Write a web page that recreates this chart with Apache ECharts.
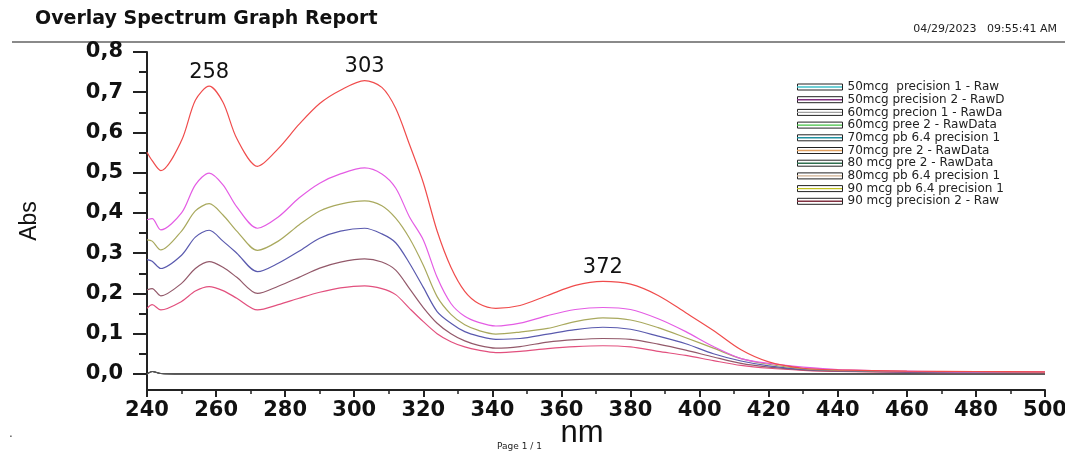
<!DOCTYPE html>
<html>
<head>
<meta charset="utf-8">
<title>Overlay Spectrum Graph Report</title>
<script src="https://cdn.jsdelivr.net/npm/echarts@6/dist/echarts.min.js"></script>
<style>
  html, body { margin: 0; padding: 0; background: #fff; }
  #chart { width: 1065px; height: 451px; }
</style>
</head>
<body>
<div id="chart"></div>
<script>
// wavelengths (nm) the curves were read at
var wavelength = [240, 241.5, 244, 250, 254, 258, 262, 266, 272, 278, 284, 290, 296, 303, 308, 312, 316, 320, 324, 328,
  332, 336, 341, 348, 356, 364, 372, 380, 388, 396, 404, 412, 420, 430, 440, 460, 480, 500];

// absorbance, top curve to bottom
var absRed = [0.551, 0.53, 0.505, 0.58, 0.68, 0.715, 0.675, 0.585, 0.516, 0.56, 0.62, 0.672, 0.705, 0.729, 0.712, 0.66,
  0.57, 0.475, 0.355, 0.265, 0.205, 0.175, 0.163, 0.17, 0.195, 0.22, 0.23, 0.223, 0.195, 0.152, 0.108, 0.06, 0.03,
  0.014, 0.01, 0.007, 0.006, 0.005];
var absMagenta = [0.383, 0.386, 0.358, 0.40, 0.47, 0.499, 0.47, 0.415, 0.362, 0.39, 0.437, 0.474, 0.497, 0.512, 0.497,
  0.462, 0.39, 0.333, 0.24, 0.175, 0.143, 0.128, 0.119, 0.126, 0.145, 0.16, 0.165, 0.16, 0.137, 0.105, 0.068, 0.038,
  0.026, 0.017, 0.011, 0.007, 0.005, 0.005];
var absOlive = [0.333, 0.33, 0.308, 0.355, 0.405, 0.423, 0.395, 0.355, 0.307, 0.33, 0.37, 0.405, 0.422, 0.43, 0.418,
  0.387, 0.337, 0.27, 0.192, 0.148, 0.122, 0.108, 0.099, 0.104, 0.113, 0.13, 0.139, 0.134, 0.115, 0.09, 0.064, 0.038,
  0.024, 0.013, 0.009, 0.006, 0.005, 0.004];
var absBlue = [0.284, 0.28, 0.262, 0.295, 0.34, 0.357, 0.33, 0.3, 0.254, 0.275, 0.305, 0.337, 0.355, 0.362, 0.348,
  0.326, 0.275, 0.215, 0.155, 0.126, 0.105, 0.094, 0.086, 0.088, 0.099, 0.11, 0.116, 0.111, 0.094, 0.075, 0.05, 0.032,
  0.02, 0.011, 0.008, 0.005, 0.004, 0.004];
var absBrown = [0.209, 0.212, 0.194, 0.225, 0.262, 0.279, 0.265, 0.24, 0.2, 0.218, 0.24, 0.263, 0.278, 0.286, 0.278,
  0.258, 0.212, 0.165, 0.126, 0.1, 0.082, 0.071, 0.064, 0.068, 0.079, 0.085, 0.088, 0.086, 0.074, 0.059, 0.042, 0.026,
  0.017, 0.01, 0.007, 0.005, 0.004, 0.003];
var absPink = [0.163, 0.172, 0.159, 0.18, 0.206, 0.217, 0.207, 0.188, 0.159, 0.172, 0.188, 0.203, 0.214, 0.219, 0.212,
  0.197, 0.163, 0.13, 0.1, 0.08, 0.067, 0.059, 0.053, 0.056, 0.063, 0.068, 0.07, 0.067, 0.056, 0.046, 0.033, 0.021,
  0.014, 0.009, 0.006, 0.004, 0.003, 0.003];
var absBaseline = [0, 0.006, 0.001, 0, 0, 0, 0, 0, 0, 0, 0, 0, 0, 0, 0, 0, 0, 0, 0, 0,
  0, 0, 0, 0, 0, 0, 0, 0, 0, 0, 0, 0, 0, 0, 0, 0, 0, 0];

// legend entries as printed (same order as the report)
var legendNames = ['50mcg  precision 1 - Raw', '50mcg precision 2 - RawD', '60mcg precion 1 - RawDa',
  '60mcg pree 2 - RawData', '70mcg pb 6.4 precision 1', '70mcg pre 2 - RawData', '80 mcg pre 2 - RawData',
  '80mcg pb 6.4 precision 1', '90 mcg pb 6.4 precision 1', '90 mcg precision 2 - Raw'];
var legendColors = ['#40c0c8', '#803080', '#a0a0a0', '#40c040', '#2090a0', '#e0a060', '#307050', '#d0b090',
  '#c0c020', '#803040'];

var peakNm = [258, 303, 372];
var yTicks = [0, 0.1, 0.2, 0.3, 0.4, 0.5, 0.6, 0.7, 0.8];
var yMinorTicks = [0.05, 0.15, 0.25, 0.35, 0.45, 0.55, 0.65, 0.75];

function pairs(values) {
  return wavelength.map(function (w, i) { return [w, values[i]]; });
}

// which curve belongs to which legend entry
var curves = [
  { name: legendNames[0], values: absBaseline, color: '#555' },
  { name: legendNames[1], values: absBaseline, color: '#555' },
  { name: legendNames[2], values: absBaseline, color: '#555' },
  { name: legendNames[3], values: absBaseline, color: '#555' },
  { name: legendNames[4], values: absPink, color: '#e2507e' },
  { name: legendNames[5], values: absBrown, color: '#93596a' },
  { name: legendNames[6], values: absBlue, color: '#5a5aae' },
  { name: legendNames[7], values: absOlive, color: '#a9a95e' },
  { name: legendNames[8], values: absMagenta, color: '#e45ce4' },
  { name: legendNames[9], values: absRed, color: '#f04c4c' }
];

var series = curves.map(function (c) {
  return {
    name: c.name,
    type: 'line',
    data: pairs(c.values),
    smooth: 0.3,
    showSymbol: false,
    symbol: 'none',
    lineStyle: { color: c.color, width: 1.2 },
    itemStyle: { color: c.color },
    emphasis: { disabled: true }
  };
});

// peak wavelengths printed above the top curve
series[9].markPoint = {
  symbol: 'circle',
  symbolSize: 1,
  itemStyle: { color: 'rgba(0,0,0,0)' },
  label: {
    show: true,
    position: 'top',
    distance: 3,
    formatter: '{b}',
    color: '#111',
    fontFamily: 'DejaVu Sans',
    fontSize: 21
  },
  data: peakNm.map(function (nm) {
    return { name: String(nm), coord: [nm, absRed[wavelength.indexOf(nm)]] };
  })
};

var legendText = { fontFamily: 'DejaVu Sans', fontSize: 12, color: '#222' };

var option = {
  animation: false,
  backgroundColor: '#fff',
  grid: { left: 147, right: 20, top: 52, bottom: 61, outerBoundsMode: 'none' },
  legend: [{
    orient: 'vertical',
    left: 797,
    top: 81,
    padding: 0,
    icon: 'rect',
    itemWidth: 45,
    itemHeight: 6,
    itemGap: 0.7,
    selectedMode: false,
    itemStyle: { color: '#fff', borderColor: '#222', borderWidth: 1 },
    textStyle: legendText,
    data: legendNames
  }, {
    orient: 'vertical',
    left: 797,
    top: 81,
    padding: 0,
    z: 6,
    icon: 'path://M0,0H38V1.2H0Z',
    itemWidth: 45,
    itemHeight: 6,
    itemGap: 0.7,
    selectedMode: false,
    textStyle: Object.assign({}, legendText, { color: 'rgba(0,0,0,0)' }),
    data: legendNames.map(function (n, i) {
      return { name: n, itemStyle: { color: legendColors[i], borderWidth: 0 } };
    })
  }],
  xAxis: {
    type: 'value',
    min: 240,
    max: 500,
    interval: 20,
    name: 'nm',
    nameLocation: 'middle',
    nameGap: 28,
    nameMoveOverlap: false,
    nameTextStyle: { fontFamily: 'Liberation Sans', fontSize: 31, color: '#111', padding: [0, 28, 0, 0] },
    axisLine: { onZero: false, lineStyle: { color: '#222', width: 2 } },
    axisTick: { length: 7, lineStyle: { color: '#222', width: 2 } },
    minorTick: { show: true, splitNumber: 2, length: 4, lineStyle: { color: '#222', width: 1.5 } },
    axisLabel: {
      margin: 10,
      color: '#111',
      fontFamily: 'DejaVu Sans',
      fontWeight: 'bold',
      fontSize: 21
    },
    splitLine: { show: false }
  },
  yAxis: [{
    type: 'value',
    min: -0.04,
    max: 0.8,
    name: 'Abs',
    nameLocation: 'middle',
    nameGap: 106,
    nameMoveOverlap: false,
    nameTextStyle: { fontFamily: 'Liberation Sans', fontSize: 23, color: '#111' },
    axisLine: { show: true, onZero: false, lineStyle: { color: '#222', width: 2 } },
    axisTick: { show: true, length: 14, customValues: yTicks, lineStyle: { color: '#222', width: 2 } },
    axisLabel: {
      customValues: yTicks,
      margin: 24,
      color: '#111',
      fontFamily: 'DejaVu Sans',
      fontWeight: 'bold',
      fontSize: 21,
      formatter: function (v) { return v.toFixed(1).replace('.', ','); }
    },
    splitLine: { show: false }
  }, {
    type: 'value',
    position: 'left',
    min: -0.04,
    max: 0.8,
    axisLine: { show: false, onZero: false },
    axisTick: { show: true, length: 8, customValues: yMinorTicks, lineStyle: { color: '#222', width: 2 } },
    axisLabel: { show: false },
    splitLine: { show: false }
  }],
  graphic: [
    {
      type: 'text', left: 35, top: 10,
      style: { text: 'Overlay Spectrum Graph Report', fontFamily: 'DejaVu Sans', fontWeight: 'bold', fontSize: 19, fill: '#111' }
    },
    {
      type: 'text', right: 8, top: 24,
      style: { text: '04/29/2023   09:55:41 AM', fontFamily: 'DejaVu Sans', fontSize: 11, fill: '#222' }
    },
    {
      type: 'rect', left: 12, top: 41,
      shape: { width: 1053, height: 2 },
      style: { fill: '#8a8a8a' }
    },
    {
      type: 'text', left: 497, top: 442,
      style: { text: 'Page 1 / 1', fontFamily: 'DejaVu Sans', fontSize: 9, fill: '#222' }
    },
    {
      type: 'text', left: 9, top: 428,
      style: { text: '.', fontFamily: 'DejaVu Sans', fontSize: 12, fill: '#444' }
    }
  ],
  series: series
};

var chart = echarts.init(document.getElementById('chart'));
chart.setOption(option);
</script>
</body>
</html>
